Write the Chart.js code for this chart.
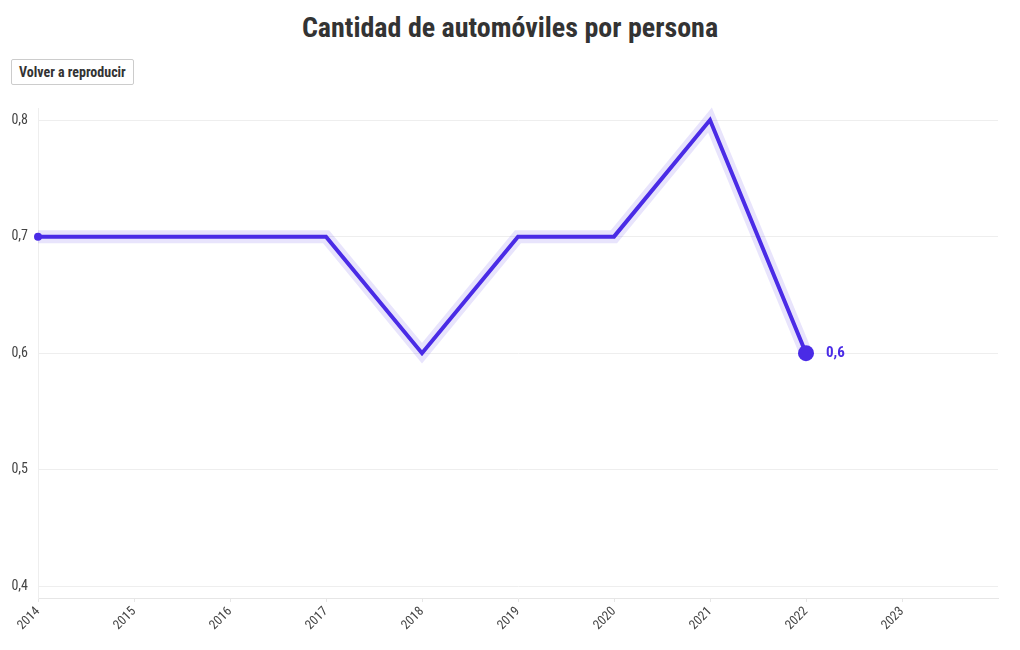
<!DOCTYPE html>
<html>
<head>
<meta charset="utf-8">
<script src="https://cdn.jsdelivr.net/npm/chart.js@4/dist/chart.umd.min.js"></script>
<style>
  html, body { margin: 0; padding: 0; background: #fff; width: 1020px; height: 650px; overflow: hidden; }
  body { font-family: 'Roboto Condensed', 'Liberation Sans Narrow', 'DejaVu Sans Condensed', Roboto, sans-serif; }
  #title { position: absolute; left: 0; top: 11px; width: 1020px; text-align: center; font-size: 28px; font-weight: bold; color: #333; line-height: 34px; }
  #btn { position: absolute; left: 11px; top: 59px; height: 26px; padding: 0 7px; border: 1px solid #ccc; border-radius: 2px; background: #fff; font-family: inherit; font-size: 14px; font-weight: bold; color: #333; box-sizing: border-box; }
  #wrap { position: absolute; left: 0; top: 90px; width: 1020px; height: 560px; }
</style>
</head>
<body>
<div id="title">Cantidad de automóviles por persona</div>
<button id="btn">Volver a reproducir</button>
<div id="wrap"><canvas id="c"></canvas></div>
<script>
const years = [2014, 2015, 2016, 2017, 2018, 2019, 2020, 2021, 2022];
const carsPerPerson = [0.7, 0.7, 0.7, 0.7, 0.6, 0.7, 0.7, 0.8, 0.6];
const yTicks = [0.4, 0.5, 0.6, 0.7, 0.8];
const xTicks = [2014, 2015, 2016, 2017, 2018, 2019, 2020, 2021, 2022, 2023];

const FONT = "'Roboto Condensed', 'Liberation Sans Narrow', 'DejaVu Sans Condensed', Roboto, sans-serif";
const LINE = '#4a2be6';
const HALO = 'rgba(74,43,230,0.13)';
const fmt = v => String(v).replace('.', ',');
const pts = years.map((y, i) => ({ x: y, y: carsPerPerson[i] }));
const last = pts.length - 1;

const endLabel = {
  id: 'endLabel',
  afterDatasetsDraw(chart) {
    const meta = chart.getDatasetMeta(1);
    const p = meta.data[last];
    const ctx = chart.ctx;
    ctx.save();
    ctx.font = "bold 15px " + FONT;
    ctx.fillStyle = LINE;
    ctx.textBaseline = 'middle';
    ctx.textAlign = 'left';
    ctx.fillText(fmt(carsPerPerson[last]), p.x + 20, p.y);
    ctx.restore();
  }
};

new Chart(document.getElementById('c'), {
  type: 'line',
  data: {
    datasets: [
      { data: pts, borderColor: HALO, borderWidth: 13, pointRadius: 0, borderJoinStyle: 'miter', order: 2, clip: false },
      { data: pts, borderColor: LINE, borderWidth: 4, borderJoinStyle: 'miter', clip: false,
        pointRadius: ctx => ctx.dataIndex === 0 ? 4 : (ctx.dataIndex === last ? 8 : 0),
        pointBackgroundColor: LINE, pointBorderWidth: 0, order: 1 }
    ]
  },
  options: {
    responsive: true, maintainAspectRatio: false, animation: false,
    layout: { padding: { top: 3, right: 22, left: 0, bottom: 0 } },
    plugins: { legend: { display: false }, tooltip: { enabled: false } },
    scales: {
      x: {
        type: 'linear', min: 2014, max: 2024,
        afterBuildTicks: s => { s.ticks = xTicks.map(v => ({ value: v })); },
        afterFit: s => { s.height = 52; },
        grid: { drawOnChartArea: false, color: '#e6e6e6', tickLength: 4 },
        border: { color: '#e6e6e6' },
        ticks: { minRotation: 45, maxRotation: 45, autoSkip: false, color: '#444', padding: 2,
          font: { family: FONT, size: 13 }, callback: v => String(v) }
      },
      y: {
        min: 0.39, max: 0.81,
        afterBuildTicks: s => { s.ticks = yTicks.map(v => ({ value: v })); },
        afterFit: s => { s.width = 38; },
        grid: { color: '#eeeeee', drawTicks: false },
        border: { color: '#eeeeee' },
        ticks: { color: '#444', padding: 10, font: { family: FONT, size: 14 }, callback: v => fmt(v) }
      }
    }
  },
  plugins: [endLabel]
});
</script>
</body>
</html>
